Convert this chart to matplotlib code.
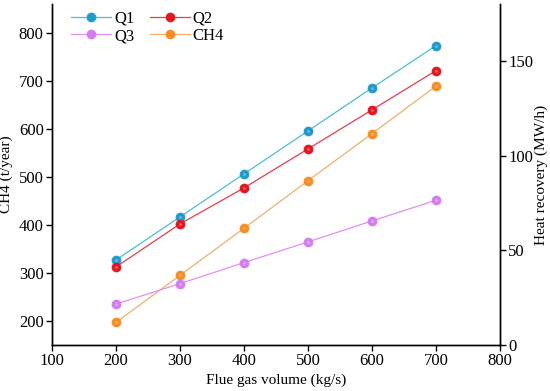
import matplotlib
matplotlib.use("Agg")
import matplotlib.pyplot as plt

plt.rcParams['font.family'] = ['Liberation Serif', 'DejaVu Serif']
plt.rcParams['font.size'] = 12

# data
flue_gas = [200, 300, 400, 500, 600, 700]
q1 = [44.9, 67.6, 90.3, 113.0, 135.7, 158.0]
q2 = [41.2, 63.9, 82.9, 103.5, 124.1, 144.8]
q3 = [21.6, 32.4, 43.5, 54.4, 65.5, 76.4]
ch4 = [197, 295, 393, 492, 590, 689]

fig = plt.figure(figsize=(5.5, 3.91), dpi=100)
ax = fig.add_axes([0.0945, 0.1176, 0.8145, 0.8722])
ax2 = ax.twinx()

def draw(axis, x, y, line_c, mark_c, label):
    h, = axis.plot(x, y, color=line_c, lw=0.9, marker='o', ms=6.5,
                   mfc=mark_c, mec=mark_c, mew=0.5, label=label, zorder=3)
    # faint highlight to mimic the shiny ball markers
    axis.plot(x, y, ls='none', marker='o', ms=2.0, mfc='white', mec='none',
              alpha=0.35, zorder=4)
    return h

h1 = draw(ax2, flue_gas, q1, '#49bfd3', '#1c9ccc', 'Q1')
h2 = draw(ax2, flue_gas, q2, '#ec3a4e', '#e8141e', 'Q2')
h3 = draw(ax2, flue_gas, q3, '#e48ef0', '#d47cf0', 'Q3')
h4 = draw(ax, flue_gas, ch4, '#f6ad6a', '#fb8c1e', 'CH4')

ax.set_xlim(100, 800)
ax.set_ylim(150, 860)
ax2.set_ylim(0, 180)
ax.set_xticks(range(100, 801, 100))
ax.set_yticks(range(200, 801, 100))
ax2.set_yticks([0, 50, 100, 150])

for a in (ax, ax2):
    a.spines['top'].set_visible(False)
    for s in a.spines.values():
        s.set_linewidth(1.0)
    a.tick_params(direction='out', length=4, width=1.0, labelsize=12, pad=2)

ax.set_xlabel('Flue gas volume (kg/s)', fontsize=11, labelpad=3)
ax.set_ylabel('CH4 (t/year)', fontsize=11, labelpad=4)
ax2.set_ylabel('Heat recovery (MW/h)', fontsize=11, labelpad=1)

ax2.legend(handles=[h1, h3, h2, h4], ncol=2, loc='upper left',
           bbox_to_anchor=(0.02, 1.01), frameon=False, fontsize=12,
           handlelength=2.4, columnspacing=0.9, handletextpad=0.2,
           labelspacing=0.1, borderaxespad=0.2)

fig.savefig('out.png', dpi=100)
